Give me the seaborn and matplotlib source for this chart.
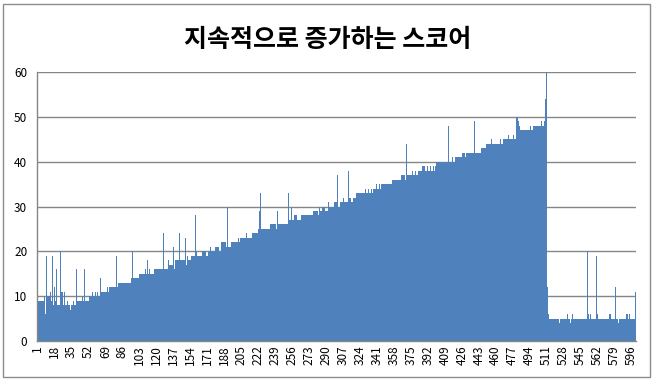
import matplotlib
matplotlib.use("Agg")
import matplotlib.pyplot as plt
import seaborn as sns
import pandas as pd
from matplotlib.patches import Rectangle

# chart text / colours
title = "지속적으로 증가하는 스코어"
bar_color = "#4F81BD"
grid_color = "#868686"

# scores, 100 bars per list
scores_001_100 = [
    25, 9, 9, 9, 9, 9, 9, 10, 6, 19, 10, 10, 10, 11, 9, 19, 8, 12, 9, 16,
    8, 8, 8, 20, 11, 11, 8, 11, 8, 8, 9, 8, 8, 7, 8, 8, 9, 8, 8, 16,
    9, 9, 9, 9, 9, 10, 9, 16, 9, 9, 9, 9, 10, 10, 10, 11, 10, 10, 11, 10,
    11, 10, 10, 14, 11, 11, 11, 11, 11, 11, 12, 11, 12, 12, 12, 12, 12, 12, 12, 19,
    12, 13, 13, 13, 13, 13, 13, 13, 13, 13, 13, 13, 13, 13, 14, 20, 14, 14, 14, 14,
]
scores_101_200 = [
    14, 14, 15, 15, 15, 15, 15, 15, 16, 15, 18, 15, 16, 15, 15, 15, 15, 16, 16, 16,
    16, 16, 16, 16, 16, 16, 24, 16, 16, 16, 16, 18, 17, 17, 17, 17, 21, 16, 18, 18,
    18, 18, 24, 18, 18, 18, 18, 18, 23, 17, 19, 18, 18, 18, 19, 19, 19, 19, 28, 20,
    19, 19, 19, 19, 19, 20, 20, 20, 20, 19, 19, 20, 20, 21, 20, 20, 20, 20, 21, 21,
    21, 21, 20, 20, 22, 22, 22, 22, 22, 21, 30, 21, 21, 21, 22, 22, 22, 22, 22, 22,
]
scores_201_300 = [
    22, 23, 22, 23, 23, 23, 23, 23, 23, 24, 23, 23, 23, 23, 23, 24, 24, 24, 24, 24,
    24, 25, 29, 33, 25, 25, 25, 25, 25, 25, 25, 25, 25, 26, 26, 26, 26, 26, 26, 25,
    29, 26, 26, 26, 26, 26, 26, 26, 26, 26, 26, 33, 27, 27, 30, 27, 27, 28, 28, 28,
    27, 27, 27, 27, 28, 28, 28, 28, 28, 28, 28, 28, 28, 28, 28, 28, 29, 29, 29, 29,
    29, 28, 30, 29, 29, 30, 30, 30, 29, 29, 29, 31, 30, 30, 30, 30, 30, 31, 31, 31,
]
scores_301_400 = [
    31, 37, 30, 30, 31, 31, 31, 32, 31, 31, 31, 31, 38, 32, 32, 31, 31, 32, 32, 32,
    33, 33, 33, 33, 33, 33, 33, 33, 33, 34, 33, 33, 34, 33, 33, 34, 33, 34, 34, 34,
    35, 34, 34, 35, 34, 35, 35, 35, 35, 35, 35, 35, 35, 35, 35, 35, 36, 36, 36, 36,
    36, 36, 36, 36, 36, 37, 37, 37, 37, 36, 44, 37, 37, 37, 37, 37, 38, 37, 37, 38,
    37, 37, 38, 38, 38, 38, 39, 39, 39, 38, 38, 39, 38, 38, 39, 38, 38, 39, 38, 39,
]
scores_401_500 = [
    40, 40, 40, 40, 40, 40, 40, 40, 40, 40, 40, 40, 48, 40, 40, 40, 41, 40, 40, 41,
    41, 41, 41, 41, 41, 41, 42, 42, 42, 41, 42, 42, 42, 42, 42, 42, 42, 42, 49, 42,
    42, 42, 42, 42, 42, 43, 43, 43, 43, 43, 44, 44, 44, 44, 44, 45, 44, 44, 44, 44,
    44, 44, 44, 44, 45, 44, 44, 45, 45, 45, 45, 45, 46, 45, 45, 45, 45, 46, 45, 45,
    50, 50, 49, 48, 47, 47, 47, 47, 47, 47, 47, 47, 47, 47, 48, 47, 47, 48, 48, 48,
]
scores_501_600 = [
    48, 48, 48, 48, 48, 49, 48, 48, 49, 54, 60, 12, 6, 5, 5, 5, 5, 5, 5, 5,
    5, 5, 5, 4, 5, 5, 5, 5, 5, 5, 5, 6, 5, 5, 4, 5, 6, 5, 5, 5,
    5, 5, 5, 5, 5, 5, 5, 5, 5, 5, 5, 20, 6, 5, 6, 5, 5, 5, 5, 5,
    19, 6, 5, 5, 5, 5, 5, 5, 5, 5, 5, 5, 5, 6, 6, 5, 5, 5, 5, 12,
    5, 5, 4, 5, 5, 5, 5, 5, 5, 5, 6, 6, 5, 6, 5, 5, 5, 5, 5, 11,
]

y_ticks = [0, 10, 20, 30, 40, 50, 60]
label_step = 17

scores = (scores_001_100 + scores_101_200 + scores_201_300
          + scores_301_400 + scores_401_500 + scores_501_600)
df = pd.DataFrame({"id": range(1, len(scores) + 1), "score": scores})

sns.set_theme(style="white")
plt.rcParams['font.family'] = ['Noto Sans CJK KR', 'DejaVu Sans']

fig = plt.figure(figsize=(6.55, 3.84), dpi=100)
fig.patch.set_facecolor("white")

# plot area in pixel terms of the 655x384 reference
ax = fig.add_axes([37 / 655, 1 - 341 / 384, (636 - 37) / 655, (341 - 72) / 384])
sns.barplot(data=df, x="id", y="score", color=bar_color, saturation=1,
            width=1.0, linewidth=0, errorbar=None, antialiased=False, ax=ax)

ax.set_xlim(-0.5, len(scores) - 0.5)
ax.set_ylim(0, 60)
ax.set_yticks(y_ticks)
ax.set_yticklabels([str(v) for v in y_ticks], fontsize=8.5)
pos = list(range(0, len(scores), label_step))
ax.set_xticks(pos)
ax.set_xticklabels([str(p + 1) for p in pos], rotation=90, fontsize=8.5)
ax.tick_params(axis="both", length=0, colors="black")
ax.tick_params(axis="y", pad=7)
ax.tick_params(axis="x", pad=3)
ax.set_xlabel("")
ax.set_ylabel("")

ax.yaxis.grid(True, color=grid_color, linewidth=1)
ax.set_axisbelow(True)
for side in ["top", "right"]:
    ax.spines[side].set_visible(False)
for side in ["left", "bottom"]:
    ax.spines[side].set_color(grid_color)
    ax.spines[side].set_linewidth(1)

fig.text(0.5, 1 - 40 / 384, title, ha="center", va="center",
         fontsize=18, fontweight="bold", color="black")

# outer chart frame
fig.patches.append(Rectangle((3 / 655, 1 - 377 / 384), 647 / 655, 373 / 384,
                             transform=fig.transFigure, fill=False,
                             edgecolor="#8c8c8c", linewidth=1))

fig.savefig("out.png", dpi=100, facecolor="white")
